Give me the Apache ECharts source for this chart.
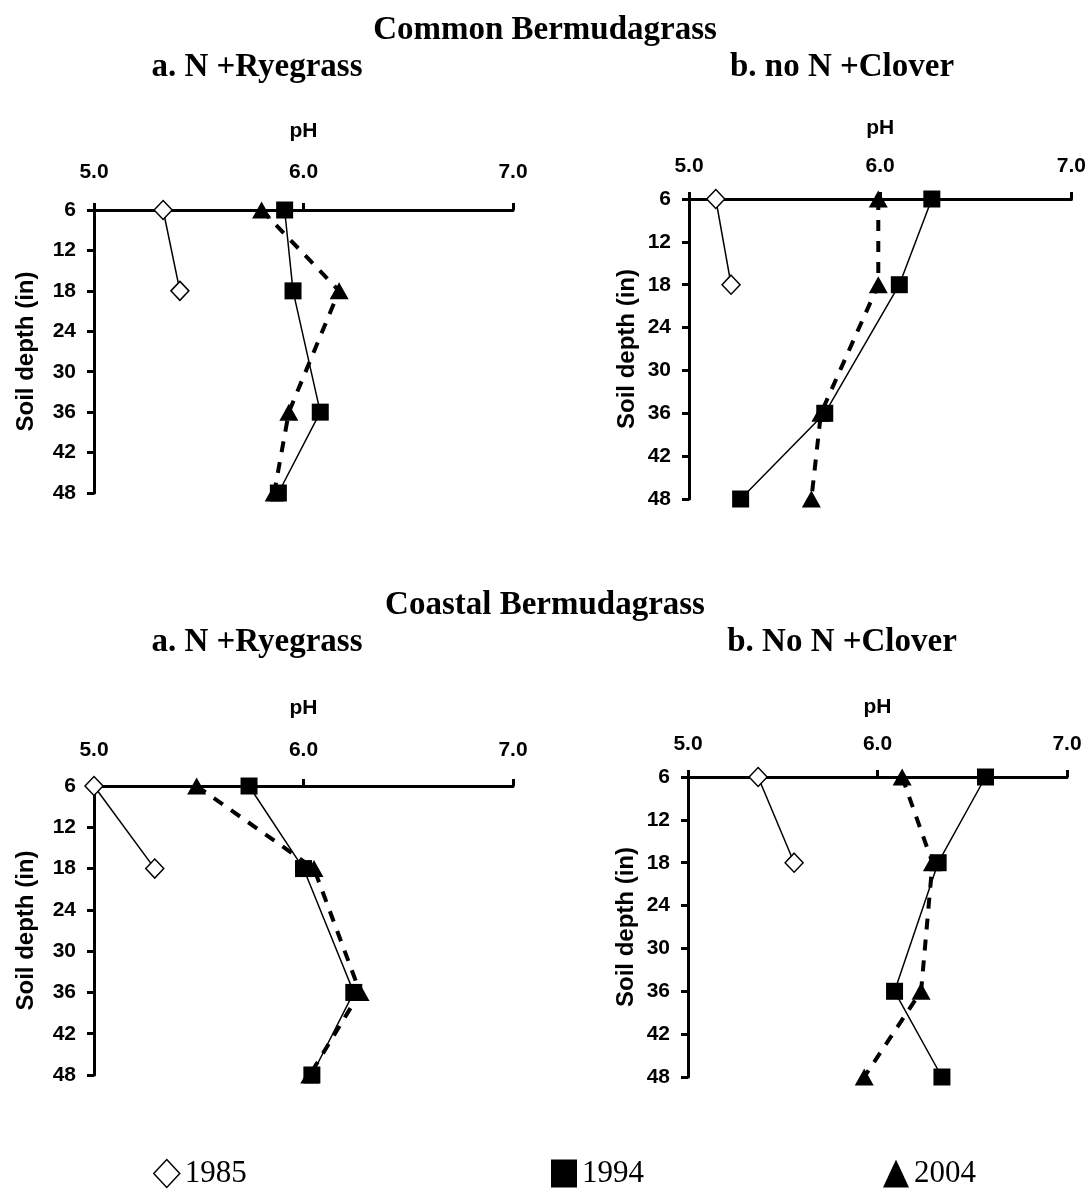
<!DOCTYPE html>
<html>
<head>
<meta charset="utf-8">
<script src="https://cdn.jsdelivr.net/npm/echarts@6/dist/echarts.min.js"></script>
<style>
html,body{margin:0;padding:0;background:#fff;}
#chart{width:1089px;height:1197px;}
</style>
</head>
<body>
<div id="chart"></div>
<script>
// ---- data ----
const depthsShort = [6, 18];
const depthsLong = [6, 18, 36, 48];
const years = ['1985', '1994', '2004'];
const yTickLabels = ['6', '12', '18', '24', '30', '36', '42', '48'];
const xTickLabels = ['5.0', '6.0', '7.0'];

const mainTitles = ['Common Bermudagrass', 'Coastal Bermudagrass'];
const panelTitles = ['a. N +Ryegrass', 'b. no N +Clover', 'a. N +Ryegrass', 'b. No N +Clover'];

// Common Bermudagrass, a. N +Ryegrass
const commonA_1985 = [5.33, 5.41];
const commonA_1994 = [5.91, 5.95, 6.08, 5.88];
const commonA_2004 = [5.80, 6.17, 5.93, 5.86];
// Common Bermudagrass, b. no N +Clover
const commonB_1985 = [5.14, 5.22];
const commonB_1994 = [6.27, 6.10, 5.71, 5.27];
const commonB_2004 = [5.99, 5.99, 5.69, 5.64];
// Coastal Bermudagrass, a. N +Ryegrass
const coastalA_1985 = [5.00, 5.29];
const coastalA_1994 = [5.74, 6.00, 6.24, 6.04];
const coastalA_2004 = [5.49, 6.05, 6.27, 6.03];
// Coastal Bermudagrass, b. No N +Clover
const coastalB_1985 = [5.37, 5.56];
const coastalB_1994 = [6.57, 6.32, 6.09, 6.34];
const coastalB_2004 = [6.13, 6.29, 6.23, 5.93];

const panels = [
  {s85: commonA_1985, s94: commonA_1994, s04: commonA_2004},
  {s85: commonB_1985, s94: commonB_1994, s04: commonB_2004},
  {s85: coastalA_1985, s94: coastalA_1994, s04: coastalA_2004},
  {s85: coastalB_1985, s94: coastalB_1994, s04: coastalB_2004}
];

// ---- layout ----
const grids = [
  {left: 94, top: 210, width: 419, height: 283},
  {left: 689, top: 199, width: 383, height: 300},
  {left: 94, top: 786, width: 419, height: 289},
  {left: 688, top: 777, width: 379, height: 300}
];
const xLabelMargin = [27, 22, 25, 22];
const xNameGap = [68, 60, 67, 59];
const yNameGap = [56, 50, 56, 50];

const SANS = 'Liberation Sans, Arial, sans-serif';
const SERIF = 'Liberation Serif, Times New Roman, serif';

function pairs(xs, ys) { return xs.map((x, i) => [x, ys[i]]); }

const xAxes = [], yAxes = [], series = [];
grids.forEach((g, i) => {
  xAxes.push({
    gridIndex: i, type: 'value', position: 'top', min: 5, max: 7, interval: 1,
    name: 'pH', nameLocation: 'middle', nameGap: xNameGap[i],
    nameTextStyle: {fontFamily: SANS, fontWeight: 'bold', fontSize: 21, color: '#000'},
    axisLine: {show: true, onZero: false, lineStyle: {color: '#000', width: 3}},
    axisTick: {show: true, inside: false, length: 7, lineStyle: {color: '#000', width: 3}},
    axisLabel: {margin: xLabelMargin[i], fontFamily: SANS, fontWeight: 'bold', fontSize: 21, color: '#000',
      formatter: v => xTickLabels[Math.round(v - 5)]},
    splitLine: {show: false}
  });
  yAxes.push({
    gridIndex: i, type: 'value', inverse: true, min: 6, max: 48, interval: 6,
    name: 'Soil depth (in)', nameLocation: 'middle', nameGap: yNameGap[i], nameRotate: 90,
    nameTextStyle: {fontFamily: SANS, fontWeight: 'bold', fontSize: 24, color: '#000'},
    axisLine: {show: true, onZero: false, lineStyle: {color: '#000', width: 3}},
    axisTick: {show: true, inside: false, length: 7, lineStyle: {color: '#000', width: 3}},
    axisLabel: {margin: 18, fontFamily: SANS, fontWeight: 'bold', fontSize: 21, color: '#000',
      formatter: v => yTickLabels[Math.round((v - 6) / 6)]},
    splitLine: {show: false}
  });
  const p = panels[i];
  series.push({
    name: years[0], type: 'line', xAxisIndex: i, yAxisIndex: i, clip: false,
    data: pairs(p.s85, depthsShort),
    symbol: 'diamond', symbolSize: [18, 19],
    itemStyle: {color: '#fff', borderColor: '#000', borderWidth: 1.5},
    lineStyle: {color: '#000', width: 1.5}, z: 4
  });
  series.push({
    name: years[2], type: 'line', xAxisIndex: i, yAxisIndex: i, clip: false,
    data: pairs(p.s04, depthsLong),
    symbol: 'triangle', symbolSize: [19, 17],
    itemStyle: {color: '#000', borderColor: '#000', borderWidth: 0},
    lineStyle: {color: '#000', width: 4, type: [11, 10]}, z: 3
  });
  series.push({
    name: years[1], type: 'line', xAxisIndex: i, yAxisIndex: i, clip: false,
    data: pairs(p.s94, depthsLong),
    symbol: 'rect', symbolSize: [17, 17],
    itemStyle: {color: '#000', borderColor: '#000', borderWidth: 0},
    lineStyle: {color: '#000', width: 1.5}, z: 3
  });
});

const titleStyle = {fontFamily: SERIF, fontWeight: 'bold', fontSize: 33, fill: '#000'};
function txt(text, x, y) {
  return {type: 'text', x: x, y: y, style: Object.assign({text: text, align: 'center', verticalAlign: 'middle'}, titleStyle)};
}

const legendCommon = {
  orient: 'horizontal', itemWidth: 26, itemHeight: 28, selectedMode: false,
  textStyle: {fontFamily: SERIF, fontSize: 31, color: '#000'}
};

const option = {
  animation: false,
  backgroundColor: '#fff',
  grid: grids.map(g => Object.assign({containLabel: false}, g)),
  xAxis: xAxes,
  yAxis: yAxes,
  series: series,
  legend: [
    Object.assign({}, legendCommon, {data: [{name: years[0], icon: 'diamond', itemStyle: {color: '#fff', borderColor: '#000', borderWidth: 1.5}}], left: 148, top: 1153}),
    Object.assign({}, legendCommon, {data: [{name: years[1], icon: 'rect'}], left: 546, top: 1153}),
    Object.assign({}, legendCommon, {data: [{name: years[2], icon: 'triangle'}], left: 878, top: 1153})
  ],
  graphic: [
    txt(mainTitles[0], 545, 30),
    txt(panelTitles[0], 257, 67),
    txt(panelTitles[1], 842, 67),
    txt(mainTitles[1], 545, 605),
    txt(panelTitles[2], 257, 642),
    txt(panelTitles[3], 842, 642)
  ]
};

const chart = echarts.init(document.getElementById('chart'), null, {renderer: 'canvas'});
chart.setOption(option);
</script>
</body>
</html>
